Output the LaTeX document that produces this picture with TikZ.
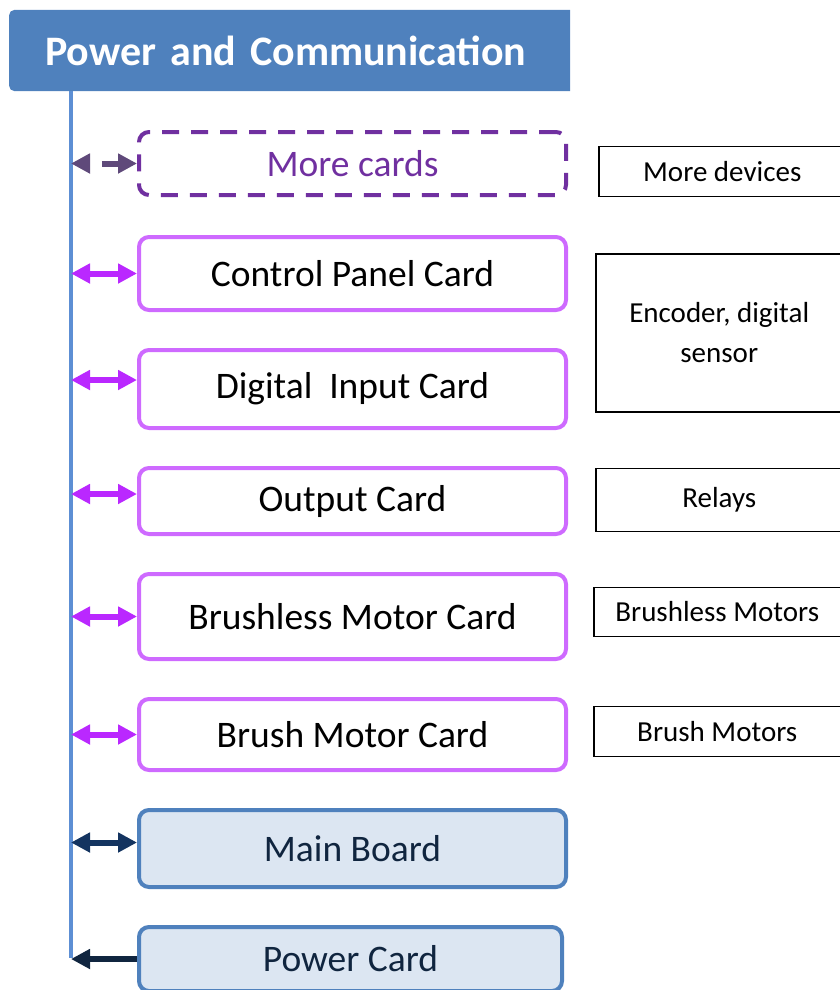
\documentclass[tikz,border=0pt]{standalone}
\usepackage{fontspec}
\setmainfont{Carlito}
\usetikzlibrary{arrows.meta,positioning}
\definecolor{hdrblue}{RGB}{79,129,189}
\definecolor{busblue}{RGB}{93,143,212}
\definecolor{morepurple}{RGB}{112,48,160}
\definecolor{morearrow}{RGB}{95,73,122}
\definecolor{cardpurple}{RGB}{206,106,255}
\definecolor{linkpurple}{RGB}{186,40,255}
\definecolor{boardfill}{RGB}{220,230,242}
\definecolor{boardtext}{RGB}{16,37,63}
\definecolor{boardlink}{RGB}{20,52,96}

\begin{document}
\begin{tikzpicture}[x=1pt, y=-1pt,
  node distance=36pt,
  header/.style={fill=hdrblue, text=white, rounded corners=5pt, font=\bfseries\fontsize{42}{50}\selectfont,
    text width=520pt, align=left, inner xsep=36pt, minimum height=81pt},
  card/.style={draw=cardpurple, line width=4pt, rounded corners=10pt, minimum width=427pt, inner sep=0pt,
    font=\fontsize{37.5}{45}\selectfont},
  morecard/.style={card, draw=morepurple, text=morepurple, dash pattern=on 17pt off 12pt},
  board/.style={card, draw=hdrblue, fill=boardfill, text=boardtext},
  device/.style={draw, line width=1.5pt, minimum width=247pt, inner sep=0pt, align=center,
    font=\fontsize{29}{40}\selectfont},
  bus/.style={draw=busblue, line width=4pt},
  link/.style={{Triangle[length=19pt,width=19pt]}-{Triangle[length=19pt,width=19pt]}, line width=6pt, draw=linkpurple},
  morelink/.style={link, draw=morearrow, dash pattern=on 0pt off 13pt on 40pt},
  boardlink/.style={link, draw=boardlink},
  pwrlink/.style={-{Triangle[length=19pt,width=19pt]}, line width=6pt, draw=boardtext}]
\path[use as bounding box, clip] (0,0) rectangle (840,990);

% header bar, cut off at the right
\begin{scope}
  \clip (0,0) rectangle (570,100);
  \node[header, anchor=west] (title) at (9,50.5) {Power and Communication};
\end{scope}
\coordinate (bustop) at (71,91);
\coordinate (busend) at (71,958);
\draw[bus] (bustop) -- (busend);

% cards on the bus
\node[morecard, minimum height=63pt] (more) at (352.5,163.5) {More cards};
\node[card, minimum height=73pt, below=38pt of more] (ctrl) {Control Panel Card};
\node[card, minimum height=78pt, below=of ctrl] (dig) {Digital\ \ Input Card};
\node[card, minimum height=66pt, below=of dig] (outc) {Output Card};
\node[card, minimum height=85pt, below=of outc] (bldc) {Brushless Motor Card};
\node[card, minimum height=71pt, below=of bldc] (brush) {Brush Motor Card};
\node[board, minimum height=77pt, below=of brush] (main) {Main Board};
\node[board, minimum height=64pt, minimum width=423pt, below=of main, xshift=-2pt] (pwr) {Power Card};

% field devices
\node[device, minimum height=50pt, anchor=west] (moredev) at (598,171.5) {More devices};
\node[device, minimum height=158pt, anchor=west] (enc) at (595,333) {Encoder, digital\\sensor};
\node[device, minimum height=63pt, anchor=west] (relays) at (595,500) {Relays};
\node[device, minimum height=49pt, anchor=west] (bldm) at (593,612) {Brushless Motors};
\node[device, minimum height=50pt, anchor=west] (brm) at (593,731.5) {Brush Motors};

% links to the bus
\draw[morelink] (bustop |- more.west) -- (more.west);
\draw[link] (bustop |- ctrl.west) -- (ctrl.west);
\draw[link] ([yshift=9pt]bustop |- dig.west) -- ([yshift=9pt]dig.west);
\draw[link] ([yshift=7pt]bustop |- outc.west) -- ([yshift=7pt]outc.west);
\draw[link] (bustop |- bldc.west) -- (bldc.west);
\draw[link] (bustop |- brush.west) -- (brush.west);
\draw[boardlink] ([yshift=6pt]bustop |- main.west) -- ([yshift=6pt]main.west);
\draw[pwrlink] (pwr.west) -- (bustop |- pwr.west);
\end{tikzpicture}
\end{document}
